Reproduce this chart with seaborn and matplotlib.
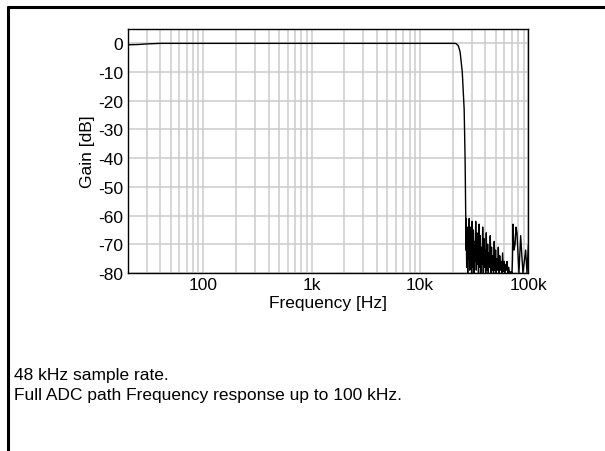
"""Resposta em frequencia do caminho ADC (48 kHz)"""

import matplotlib
matplotlib.use("Agg")
import matplotlib.pyplot as plt
from matplotlib.lines import Line2D
from matplotlib.ticker import FixedLocator, LogLocator, NullFormatter
import seaborn as sns
import pandas as pd

# Banda passante e queda do filtro (Hz, dB)
freq_passa = [20, 25, 30, 40, 60, 100, 1000, 10000, 20000, 21000, 21500,
              22500, 23400, 24500, 25500, 26000, 26400, 26500]
ganho_passa = [-0.5, -0.4, -0.2, 0, 0, 0, 0, 0, 0, 0, -0.1,
               -0.8, -3, -10, -23, -40, -62, -72]

# Residuo na banda de rejeicao (kHz, dB)
freq_ruido = [26.6, 26.9, 27.2, 27.5, 27.8, 28.1, 28.4, 28.7, 29.0, 29.3,
              29.6, 29.9, 30.2, 30.6, 31.0, 31.4, 31.8, 32.2, 32.6, 33.0,
              33.4, 33.8, 34.2, 34.6, 35.0, 35.4, 35.8, 36.3, 36.8, 37.3,
              37.8, 38.3, 38.8, 39.3, 39.8, 40.3, 40.8, 41.4, 42.0, 42.6,
              43.2, 43.8, 44.4, 45.0, 45.6, 46.2, 46.9, 47.6, 48.3, 49.0,
              49.7, 50.4, 51.1, 51.9, 52.7, 53.5, 54.3, 55.1, 55.9, 56.8,
              57.7, 58.6, 59.5, 60.4, 61.4, 62.4, 63.4, 64.4, 65.5, 66.6]
ganho_ruido = [-61, -78, -64, -80, -67, -75,
               -61, -79, -64, -77, -68, -80,
               -62, -78, -65, -80, -69, -76,
               -62, -79, -66, -77, -70, -80,
               -63, -78, -67, -80, -71, -77,
               -64, -80, -68, -78, -72, -80,
               -66, -79, -70, -80, -73, -78,
               -67, -80, -71, -79, -74, -80,
               -69, -79, -72, -80, -75, -79,
               -71, -80, -74, -79, -76, -80,
               -73, -79.5, -76, -80, -77, -79,
               -76, -80, -78, -79.5]

# Lobulos perto de 100 kHz (kHz, dB)
freq_lobos = [67.7, 69.0, 70.5, 71.2, 72.0, 73.5, 75.2, 76.8, 78.3, 81.7,
              84.7, 88.9, 94.2, 96.9, 100.0]
ganho_lobos = [-80, -79.5, -80, -75, -63, -72, -70, -64, -66, -80,
               -67, -80, -72, -80, -70]

# Rotulos dos eixos
ticks_x = [100, 1000, 10000, 100000]
rotulos_x = ["100", "1k", "10k", "100k"]
ticks_y = [0, -10, -20, -30, -40, -50, -60, -70, -80]

linhas_texto = ["48 kHz sample rate.",
                "Full ADC path Frequency response up to 100 kHz."]

sns.set_theme(style="whitegrid")
plt.rcParams["font.family"] = ["Liberation Sans", "DejaVu Sans"]
plt.rcParams["text.color"] = "black"

df = pd.DataFrame({
    "Frequencia": freq_passa + [f * 1000 for f in freq_ruido + freq_lobos],
    "Ganho": ganho_passa + ganho_ruido + ganho_lobos,
})

fig = plt.figure(figsize=(6.05, 4.52), dpi=100)
fig.patch.set_facecolor("white")
ax = fig.add_axes([0.211, 0.3938, 0.6625, 0.5398])

sns.lineplot(data=df, x="Frequencia", y="Ganho", sort=False,
             color="black", linewidth=1.0, ax=ax)

ax.set_xscale("log")
ax.set_xlim(20, 100000)
ax.set_ylim(-80, 5)

ax.xaxis.set_major_locator(FixedLocator(ticks_x))
ax.set_xticklabels(rotulos_x)
ax.xaxis.set_minor_locator(LogLocator(base=10, subs=range(2, 10)))
ax.xaxis.set_minor_formatter(NullFormatter())
ax.set_yticks(ticks_y)
ax.set_yticklabels([str(v) for v in ticks_y])

ax.tick_params(axis="both", which="both", length=0, labelsize=12.5,
               colors="black", pad=3)
ax.grid(True, which="major", color="#cccccc", linewidth=1.1)
ax.grid(True, which="minor", axis="x", color="#cccccc", linewidth=1.1)
ax.set_facecolor("white")
for sp in ax.spines.values():
    sp.set_color("black")
    sp.set_linewidth(1.0)

ax.set_xlabel("Frequency [Hz]", fontsize=12.5, color="black", labelpad=2)
ax.set_ylabel("Gain [dB]", fontsize=12.5, color="black")
ax.yaxis.set_label_coords(-0.082, 0.5)

# Moldura externa (so topo e lado esquerdo aparecem)
fig.add_artist(Line2D([8 / 605, 1.0], [1 - 8 / 452, 1 - 8 / 452],
                      color="black", linewidth=2.2, transform=fig.transFigure))
fig.add_artist(Line2D([8 / 605, 8 / 605], [0.0, 1 - 8 / 452],
                      color="black", linewidth=2.2, transform=fig.transFigure))

# Texto explicativo
fig.text(14 / 605, 0.170, linhas_texto[0], fontsize=12.5, va="center",
         color="black")
fig.text(14 / 605, 0.126, linhas_texto[1], fontsize=12.5, va="center",
         color="black")

fig.savefig("out.png", dpi=100)
